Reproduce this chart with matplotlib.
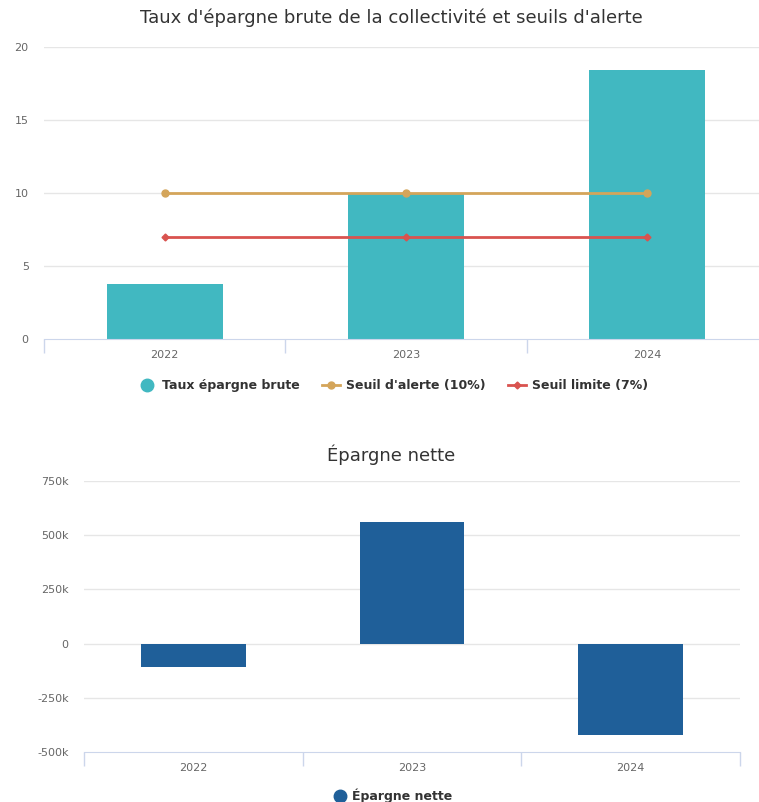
import numpy as np
import matplotlib.pyplot as plt
from matplotlib.lines import Line2D

years = ["2022", "2023", "2024"]
taux_brute = [3.8, 10.0, 18.4]
seuil_alerte = [10, 10, 10]
seuil_limite = [7, 7, 7]
epargne_nette = [-106000, 563000, -420000]

TEAL = "#41b8c1"
GOLD = "#d4a55a"
RED = "#d9534f"
NAVY = "#1f5f99"
GRID = "#e6e6e6"
AXIS = "#ccd6eb"
LABEL = "#666666"

W, H = 759, 802
fig = plt.figure(figsize=(W / 100, H / 100), dpi=100)


def px_axes(x0, y0, x1, y1):
    # axes from pixel box (top-left origin)
    return fig.add_axes([x0 / W, 1 - y1 / H, (x1 - x0) / W, (y1 - y0) / H])


def style(ax, ylim, yticks, ylabels):
    ax.set_xlim(-0.5, 2.5)
    ax.set_ylim(*ylim)
    for s in ["top", "right", "left"]:
        ax.spines[s].set_visible(False)
    ax.spines["bottom"].set_color(AXIS)
    ax.set_yticks(yticks)
    ax.set_yticklabels(ylabels, fontsize=8, color=LABEL)
    ax.tick_params(axis="y", length=0, pad=11)
    ax.set_xticks(range(len(years)))
    ax.set_xticklabels(years, fontsize=8, color=LABEL)
    ax.tick_params(axis="x", which="major", length=0, pad=8)
    ax.set_xticks(np.arange(-0.5, 3.0, 1.0), minor=True)
    ax.tick_params(axis="x", which="minor", length=10, color=AXIS, width=1)
    for v in yticks[1:]:
        ax.axhline(v, color=GRID, lw=1, zorder=0)
    ax.set_axisbelow(True)


# Taux d'épargne brute
ax1 = px_axes(44, 47, 768, 339)
x = np.arange(len(years))
ax1.bar(x, taux_brute, width=0.48, color=TEAL, zorder=2)
ax1.plot(x, seuil_alerte, color=GOLD, lw=2, marker="o", ms=5, zorder=3)
ax1.plot(x, seuil_limite, color=RED, lw=2, marker="D", ms=3.5, zorder=3)
style(ax1, (0, 20), [0, 5, 10, 15, 20], ["0", "5", "10", "15", "20"])
fig.text(391 / W, 1 - 18 / H, "Taux d'épargne brute de la collectivité et seuils d'alerte",
         ha="center", va="center", fontsize=13, color="#333333")

handles1 = [
    Line2D([], [], ls="none", marker="o", ms=9, color=TEAL),
    Line2D([], [], color=GOLD, lw=2, marker="o", ms=5),
    Line2D([], [], color=RED, lw=2, marker="D", ms=3.5),
]
fig.legend(handles1, ["Taux épargne brute", "Seuil d'alerte (10%)", "Seuil limite (7%)"],
           loc="center", bbox_to_anchor=(393 / W, 1 - 386 / H), ncol=3, frameon=False,
           prop={"size": 9, "weight": "bold"}, labelcolor="#333333",
           handlelength=1.4, columnspacing=1.8, handletextpad=0.5)

# Épargne nette
ax2 = px_axes(84, 481, 740, 752)
ax2.bar(x, epargne_nette, width=0.48, color=NAVY, zorder=2)
style(ax2, (-500000, 750000), [-500000, -250000, 0, 250000, 500000, 750000],
      ["-500k", "-250k", "0", "250k", "500k", "750k"])
fig.text(391 / W, 1 - 455 / H, "Épargne nette", ha="center", va="center",
         fontsize=13, color="#333333")

handles2 = [Line2D([], [], ls="none", marker="o", ms=9, color=NAVY)]
fig.legend(handles2, ["Épargne nette"], loc="center", bbox_to_anchor=(393 / W, 1 - 796 / H),
           frameon=False, prop={"size": 9, "weight": "bold"}, labelcolor="#333333",
           handlelength=1.0, handletextpad=0.5)

fig.savefig("out.png", dpi=100)
